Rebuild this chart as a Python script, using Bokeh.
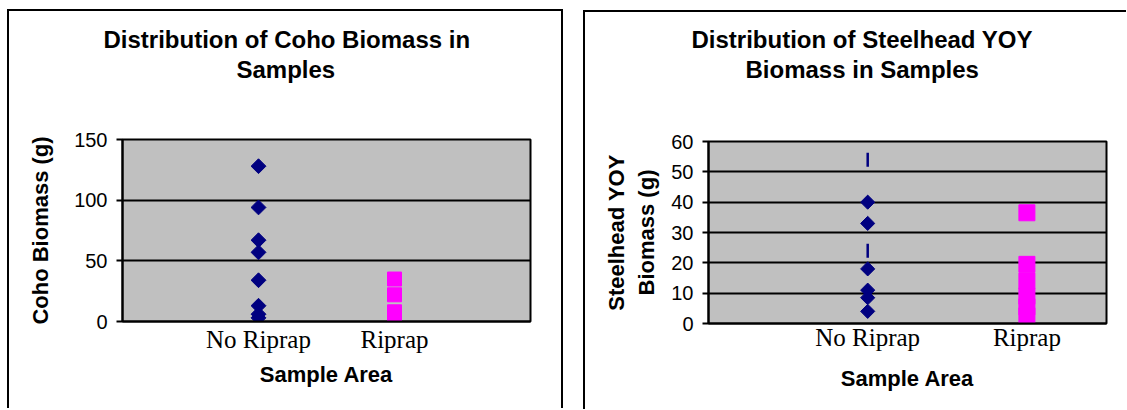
from bokeh.plotting import figure
from bokeh.layouts import row, column
from bokeh.models import Range1d, FixedTicker, Title, Spacer
from bokeh.embed import file_html
from bokeh.resources import INLINE
import math

# ---------------- data ----------------
categories = ["No Riprap", "Riprap"]
coho_ticks = [0, 50, 100, 150]
steel_ticks = [0, 10, 20, 30, 40, 50, 60]

coho_no_riprap = [128, 94, 67, 57, 34, 13, 6, 3]
coho_riprap = [35, 22, 8, 3]

steel_no_riprap = [40, 33, 18, 11, 8.5, 4]
steel_no_riprap_dash = [54, 24]
steel_riprap = [36.5, 19.5, 14, 9, 5.5, 2.5]

NAVY = "#000080"
MAGENTA = "#FF00FF"
GREY = "#C0C0C0"
SANS = "Liberation Sans"
SERIF = "Liberation Serif"


def xpos(cat, n):
    return [categories.index(cat) + 1] * n


def make_panel(width, height, xr, yr, ticks, frame, ylabel, titles, spacer_size,
               title_offsets, xlab_standoff, xtitle_standoff, ylab_standoff):
    fl, fr, ft, fb = frame
    p = figure(width=width, height=height, x_range=Range1d(*xr), y_range=Range1d(*yr),
               output_backend="svg", toolbar_location=None, title=None,
               min_border_left=fl, min_border_right=width - fr,
               min_border_top=ft, min_border_bottom=height - fb,
               background_fill_color=GREY, border_fill_color="white",
               outline_line_color="black", outline_line_width=2)
    p.xgrid.grid_line_color = None
    p.ygrid.grid_line_color = "black"
    p.ygrid.grid_line_width = 2
    p.yaxis.ticker = FixedTicker(ticks=ticks)
    p.ygrid.ticker = FixedTicker(ticks=ticks)
    p.yaxis.axis_line_width = 2
    p.yaxis.major_tick_line_width = 2
    p.yaxis.major_tick_out = 6
    p.yaxis.major_tick_in = 0
    p.yaxis.minor_tick_line_color = None
    p.yaxis.major_label_text_font = SANS
    p.yaxis.major_label_text_font_size = "20px"
    p.yaxis.major_label_text_color = "black"
    p.yaxis.major_label_standoff = 9
    p.yaxis.axis_label = ylabel
    p.yaxis.axis_label_text_font = SANS
    p.yaxis.axis_label_text_font_style = "bold"
    p.yaxis.axis_label_text_font_size = "22px"
    p.yaxis.axis_label_text_color = "black"
    p.yaxis.axis_label_standoff = ylab_standoff

    p.xaxis.ticker = FixedTicker(ticks=[1, 2])
    p.xaxis.major_label_overrides = {1: categories[0], 2: categories[1]}
    p.xaxis.axis_line_width = 2
    p.xaxis.major_tick_line_color = None
    p.xaxis.major_tick_out = 0
    p.xaxis.major_tick_in = 0
    p.xaxis.minor_tick_line_color = None
    p.xaxis.major_label_text_font = SERIF
    p.xaxis.major_label_text_font_size = "25px"
    p.xaxis.major_label_text_color = "black"
    p.xaxis.major_label_standoff = xlab_standoff
    p.xaxis.axis_label = "Sample Area"
    p.xaxis.axis_label_text_font = SANS
    p.xaxis.axis_label_text_font_style = "bold"
    p.xaxis.axis_label_text_font_size = "22px"
    p.xaxis.axis_label_text_color = "black"
    p.xaxis.axis_label_standoff = xtitle_standoff

    # titles stack upward from the frame: spacer first, then last line, then first line
    p.add_layout(Title(text=" ", text_font_size=spacer_size), "above")
    for txt, off in reversed(list(zip(titles, title_offsets))):
        p.add_layout(Title(text=txt, align="left", offset=off, text_font=SANS,
                           text_font_style="bold", text_font_size="24px",
                           text_color="black", standoff=1), "above")
    return p


def black(w, h):
    return Spacer(width=w, height=h, styles={"background-color": "black"})


H = 397

# ---------------- left panel ----------------
L_W = 552
L_FRAME = (113, 521, 128, 310)
p1 = make_panel(L_W, H, (0, 3), (0, 150), coho_ticks, L_FRAME, "Coho Biomass (g)",
                ["Distribution of Coho Biomass in", "Samples"], "40px", [-19, 114],
                4, 6, 18)
p1.scatter(xpos("No Riprap", len(coho_no_riprap)), coho_no_riprap, marker="square",
           angle=math.pi / 4, size=10.5, fill_color=NAVY, line_color=NAVY)
p1.scatter(xpos("Riprap", len(coho_riprap)), coho_riprap, marker="square",
           size=14, fill_color=MAGENTA, line_color=MAGENTA)

# ---------------- right panel ----------------
R_W = 541
R_FRAME = (123, 521, 129, 311)
p2 = make_panel(R_W, H, (0, 2.5), (0, 60), steel_ticks, R_FRAME,
                "Steelhead YOY\nBiomass (g)",
                ["Distribution of Steelhead YOY", "Biomass in Samples"], "41px", [-17, 37],
                0, 12, 9)
p2.scatter(xpos("No Riprap", len(steel_no_riprap)), steel_no_riprap, marker="square",
           angle=math.pi / 4, size=10, fill_color=NAVY, line_color=NAVY)
p2.scatter(xpos("No Riprap", len(steel_no_riprap_dash)), steel_no_riprap_dash,
           marker="dash", angle=math.pi / 2, size=14, line_color=NAVY, line_width=2.5)
p2.scatter(xpos("Riprap", len(steel_riprap)), steel_riprap, marker="square",
           size=16, fill_color=MAGENTA, line_color=MAGENTA)

left = column(Spacer(width=L_W + 4, height=9), black(L_W + 4, 2),
              row(black(2, H), p1, black(2, H)))
right = column(Spacer(width=R_W + 2, height=10), black(R_W + 2, 2),
               row(black(2, H), p2))
layout = row(Spacer(width=7, height=H), left, Spacer(width=20, height=H), right)
open("out.html", "w").write(file_html(layout, INLINE))
